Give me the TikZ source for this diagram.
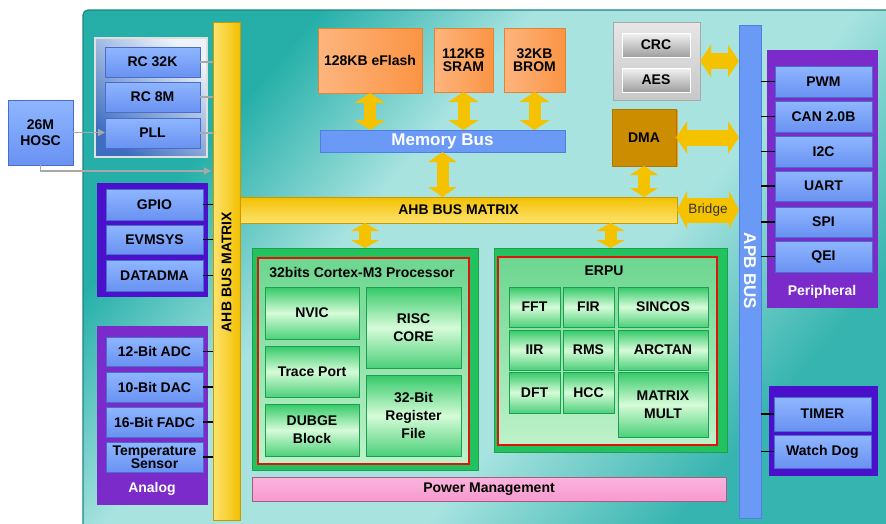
\documentclass[tikz,border=0pt]{standalone}
\usepackage{fontspec}
\setmainfont{Liberation Sans}
\usetikzlibrary{arrows.meta,shadows,calc}
\definecolor{tealA}{HTML}{26AFA9}
\definecolor{tealB}{HTML}{A8E3E0}
\definecolor{tealC}{HTML}{36B4AF}
\definecolor{tealedge}{HTML}{1E8580}
\definecolor{bluetop}{HTML}{8FB6FF}
\definecolor{bluebot}{HTML}{6992F2}
\definecolor{blueedge}{HTML}{4A6CCC}
\definecolor{blueshadow}{HTML}{3C5CB8}
\definecolor{busblue}{HTML}{6A9AF5}
\definecolor{busedge}{HTML}{4F7FE0}
\definecolor{clkdark}{HTML}{3E6EC0}
\definecolor{clklight}{HTML}{EEF3FA}
\definecolor{ylwA}{HTML}{FDE36E}
\definecolor{ylwB}{HTML}{F2C000}
\definecolor{ylwedge}{HTML}{C89A00}
\definecolor{arrowylw}{HTML}{F5C200}
\definecolor{orgA}{HTML}{FDB57E}
\definecolor{orgB}{HTML}{FB9444}
\definecolor{orgedge}{HTML}{E38435}
\definecolor{dmafill}{HTML}{CC8D00}
\definecolor{dmaedge}{HTML}{EC9C20}
\definecolor{grayA}{HTML}{E6E6E6}
\definecolor{grayB}{HTML}{C8C8C8}
\definecolor{grayD}{HTML}{A8A8A8}
\definecolor{violetg}{HTML}{4B10CC}
\definecolor{purpleg}{HTML}{7A2BC9}
\definecolor{gOut}{HTML}{22C25E}
\definecolor{gEdge}{HTML}{1AA04E}
\definecolor{gTop}{HTML}{34C968}
\definecolor{gMid}{HTML}{D6FBD8}
\definecolor{gBot}{HTML}{4CD07A}
\definecolor{gInA}{HTML}{6CD690}
\definecolor{gInB}{HTML}{BEF2CA}
\definecolor{redline}{HTML}{E0140F}
\definecolor{pinkA}{HTML}{FBB3DC}
\definecolor{pinkB}{HTML}{F79ACF}
\definecolor{pinkedge}{HTML}{A0607E}
\pgfdeclarehorizontalshading{bgshade}{100bp}{color(0bp)=(tealA); color(28bp)=(tealA); color(40bp)=(tealB); color(58bp)=(tealB); color(72bp)=(tealC); color(100bp)=(tealC)}
\newcommand\fsz[2]{\fontsize{#1}{#2}\selectfont}
\newcommand\bx[7]{\node[#6, minimum width={#4-#2}, minimum height={#5-#3}] (#1) at ({(#2+#4)/2},{(#3+#5)/2}) {#7};}
\tikzset{
  base/.style={inner sep=0pt, outer sep=0pt, align=center, font=\bfseries\fsz{14}{18}, text=black},
  bluebox/.style={base, draw=blueedge, line width=0.6pt, top color=bluetop, bottom color=bluebot,
    general shadow={fill=blueshadow, shadow xshift=1.3pt, shadow yshift=-1.3pt}},
  clkgrp/.style={base, draw=white!75!gray, line width=1.2pt, top color=clklight, bottom color=clkdark, shading angle=-40},
  vgrp/.style={base, fill=violetg},
  pgrp/.style={base, fill=purpleg},
  grplbl/.style={base, text=white},
  ybarv/.style={base, draw=ylwedge, line width=0.5pt, left color=ylwA, right color=ylwB},
  ybarh/.style={base, draw=ylwedge, line width=0.5pt, top color=ylwB, bottom color=ylwA},
  bus/.style={base, fill=busblue, draw=busedge, line width=0.5pt, text=white, font=\bfseries\fsz{17}{20}},
  apbbar/.style={base, fill=busblue, draw=busedge, line width=0.5pt},
  mem/.style={base, draw=orgedge, line width=0.6pt, left color=orgA, right color=orgB, font=\bfseries\fsz{14}{13.5},
    general shadow={fill=orgedge!85!black, shadow xshift=1.3pt, shadow yshift=-1.3pt}},
  crcgrp/.style={base, draw=grayD, line width=0.5pt, top color=grayA, bottom color=grayB,
    general shadow={fill=gray!70, shadow xshift=1.3pt, shadow yshift=-1.3pt}},
  crcbox/.style={base, draw=white, line width=1pt, top color=white!95!black, bottom color=white!62!black},
  dmabox/.style={base, fill=dmafill, draw=dmafill!85!black, line width=0.5pt,
    general shadow={fill=dmaedge, shadow xshift=2pt, shadow yshift=-1pt}},
  gouter/.style={base, fill=gOut, draw=gEdge, line width=0.6pt},
  ginner/.style={base, top color=gInA, bottom color=gInB, draw=redline, line width=2pt},
  gitem/.style={base, draw=gEdge, line width=0.8pt, top color=gTop, bottom color=gBot, middle color=gMid},
  pinkbox/.style={base, draw=pinkedge, line width=0.6pt, top color=pinkA, bottom color=pinkB,
    general shadow={fill=pinkedge, shadow xshift=1.3pt, shadow yshift=-1.3pt}},
  yarr/.style n args={3}{draw=arrowylw, fill=arrowylw, line width=#1pt,
    {Triangle[length=#3pt,width=#2pt]}-{Triangle[length=#3pt,width=#2pt]}},
  gl/.style={draw=grayD, line width=1.5pt},
  garr/.style={gl, -{Triangle[length=7pt,width=7pt]}},
  bl/.style={draw=black, line width=1.2pt},
}
\begin{document}
\begin{tikzpicture}[x=1pt, y=-1pt]
\useasboundingbox (0,0) rectangle (886,523);
\fill[white] (0,0) rectangle (886,523);
% background panel
\shade[shading=bgshade, shading angle=-40]
  (83,10) [rounded corners=5pt] -- (900,10) -- (900,540) -- (83,540) -- cycle;
\draw[tealedge, line width=1.2pt, rounded corners=5pt] (83,540) -- (83,10) -- (900,10);

% clock group
\bx{hosc}{8}{100}{73}{165}{bluebox, font=\bfseries\fsz{14}{16}}{26M\\HOSC}
\bx{clk}{95}{38}{207}{157}{clkgrp}{}
\bx{rcA}{105}{47}{200}{77}{bluebox}{RC 32K}
\bx{rcB}{105}{82}{200}{112}{bluebox}{RC 8M}
\bx{pll}{105}{118}{200}{148}{bluebox}{PLL}

% GPIO group
\bx{gpiog}{97}{183}{208}{297}{vgrp}{}
\bx{gpio}{106}{189}{203}{220}{bluebox}{GPIO}
\bx{evm}{106}{225}{203}{254}{bluebox}{EVMSYS}
\bx{ddma}{106}{260}{203}{291}{bluebox}{DATADMA}

% Analog group
\bx{anag}{97}{326}{208}{505}{pgrp}{}
\bx{adc}{106}{337}{203}{366}{bluebox}{12-Bit ADC}
\bx{dac}{106}{372}{203}{402}{bluebox}{10-Bit DAC}
\bx{fadc}{106}{407}{203}{437}{bluebox}{16-Bit FADC}
\bx{temp}{106}{442}{203}{472}{bluebox, font=\bfseries\fsz{14}{13}}{Temperature\\Sensor}
\node[grplbl] (analbl) at (152,489) {Analog};

% AHB bus matrix
\bx{ahbv}{213}{22}{240}{520}{ybarv}{}
\node[base, rotate=90] (ahbvlbl) at (226.5,272) {AHB BUS MATRIX};
\bx{ahbh}{240}{197}{677}{223}{ybarh}{AHB BUS MATRIX}

% memories
\bx{eflash}{318}{28}{422}{93}{mem}{128KB eFlash}
\bx{sram}{434}{28}{493}{92}{mem}{112KB\\SRAM}
\bx{brom}{504}{28}{565}{92}{mem}{32KB\\BROM}
\bx{membus}{320}{130}{565}{152}{bus}{Memory Bus}

% CRC / AES / DMA
\bx{crcg}{613}{22}{700}{100}{crcgrp}{}
\bx{crc}{622}{33}{690}{57}{crcbox}{CRC}
\bx{aes}{622}{68}{690}{92}{crcbox}{AES}
\bx{dma}{612}{109}{676}{166}{dmabox}{DMA}

% APB bus
\bx{apb}{739}{25}{761}{518}{apbbar}{}
\node[base, rotate=-90, text=white, font=\bfseries\fsz{17}{20}] (apblbl) at (750,271) {APB BUS};

% Peripheral
\bx{perg}{767}{50}{878}{308}{pgrp}{}
\bx{pwm}{775}{66}{872}{97}{bluebox}{PWM}
\bx{can}{775}{101}{872}{132}{bluebox}{CAN 2.0B}
\bx{itc}{775}{136}{872}{167}{bluebox}{I2C}
\bx{uart}{775}{171}{872}{201}{bluebox}{UART}
\bx{spi}{775}{207}{872}{237}{bluebox}{SPI}
\bx{qei}{775}{241}{872}{272}{bluebox}{QEI}
\node[grplbl] (perlbl) at (822,292) {Peripheral};

% Timer group
\bx{timg}{769}{386}{878}{476}{vgrp}{}
\bx{timer}{774}{397}{871}{431}{bluebox}{TIMER}
\bx{wdog}{774}{435}{871}{468}{bluebox}{Watch Dog}

% Processor
\bx{proc}{252}{248}{478}{470}{gouter}{}
\bx{procin}{258}{258}{469}{464}{ginner}{}
\node[base] (ptitle) at (362,272) {32bits Cortex-M3 Processor};
\bx{nvic}{265}{287}{359}{339}{gitem}{NVIC}
\bx{trace}{265}{346}{359}{397}{gitem}{Trace Port}
\bx{dubge}{265}{404}{359}{456}{gitem}{DUBGE\\Block}
\bx{risc}{366}{287}{461}{368}{gitem}{RISC\\CORE}
\bx{regf}{366}{375}{461}{456}{gitem}{32-Bit\\Register\\File}

% ERPU
\bx{erpu}{494}{248}{727}{452}{gouter}{}
\bx{erpuin}{498}{257}{717}{445}{ginner}{}
\node[base] (etitle) at (604,271) {ERPU};
\bx{fft}{509}{287}{560}{327}{gitem}{FFT}
\bx{fir}{563}{287}{614}{327}{gitem}{FIR}
\bx{sincos}{618}{287}{708}{327}{gitem}{SINCOS}
\bx{iir}{509}{330}{560}{370}{gitem}{IIR}
\bx{rms}{563}{330}{614}{370}{gitem}{RMS}
\bx{arctan}{618}{330}{708}{370}{gitem}{ARCTAN}
\bx{dft}{509}{372}{560}{413}{gitem}{DFT}
\bx{hcc}{563}{372}{614}{413}{gitem}{HCC}
\bx{mmult}{618}{372}{708}{437}{gitem}{MATRIX\\MULT}

% Power
\bx{power}{252}{477}{726}{501}{pinkbox}{Power Management}

% thin connectors
\draw[gl] (rcA.east) -- (rcA.east -| ahbv.west);
\draw[gl] (rcB.east) -- (rcB.east -| ahbv.west);
\draw[gl] (pll.east) -- (pll.east -| ahbv.west);
\draw[garr] (hosc.east) -- (hosc.east -| pll.west);
\coordinate (hk) at (0,171);
\draw[garr] (hosc.south) |- ($(hk -| ahbv.west)+(-2,0)$);
\foreach \n in {gpio,evm,ddma,adc,dac,fadc,temp}
  \draw[bl] (\n.east) -- (\n.east -| ahbv.west);
\foreach \n in {pwm,can,itc,uart,spi,qei,timer,wdog}
  \draw[bl] (apb.east |- \n.west) -- (\n.west);

% yellow double arrows
\draw[yarr={12}{30}{10}] (eflash.south) -- (eflash.south |- membus.north);
\draw[yarr={12}{30}{10}] (sram.south) -- (sram.south |- membus.north);
\draw[yarr={12}{30}{10}] (brom.south) -- (brom.south |- membus.north);
\draw[yarr={12}{28}{10}] (membus.south) -- (membus.south |- ahbh.north);
\draw[yarr={12}{28}{9}] (dma.south) -- (dma.south |- ahbh.north);
\draw[yarr={12}{28}{8}] (proc.north |- ahbh.south) -- (proc.north);
\draw[yarr={12}{28}{8}] (erpu.north |- ahbh.south) -- (erpu.north);
\draw[yarr={16}{32}{11}] (dma.east) -- (dma.east -| apb.west);
\draw[yarr={16}{32}{11}] (crcg.east) -- (crcg.east -| apb.west);
\draw[yarr={25}{38}{10}] (ahbh.east) -- (ahbh.east -| apb.west)
  node[midway, inner sep=0pt, text=black!80, font=\fsz{13.5}{14}] (bridgelbl) {Bridge};
\end{tikzpicture}
\end{document}
